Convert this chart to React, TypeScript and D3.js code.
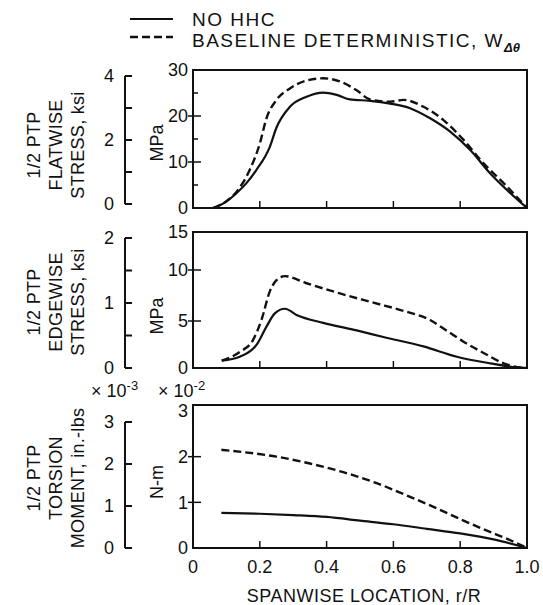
import * as d3 from "d3";
import React, { useRef, useEffect } from "react";

// spanwise location ticks
const xTicks = [0, 0.2, 0.4, 0.6, 0.8, 1.0];
const xTickLabels = ["0", "0.2", "0.4", "0.6", "0.8", "1.0"];

// flatwise stress, MPa  [r/R, value]
const flatNoHhc: [number, number][] = [
  [0.06, 0], [0.1, 1.4], [0.13, 3.2], [0.16, 5.4], [0.19, 8.3], [0.23, 13.3], [0.25, 17.5], [0.29, 22],
  [0.34, 24.2], [0.39, 25.1], [0.43, 24.6], [0.47, 23.6], [0.53, 23.3], [0.59, 22.7],
  [0.65, 21.7], [0.71, 19.5], [0.77, 16.6], [0.83, 12.6], [0.89, 7.5], [0.94, 3.9], [1.0, 0],
];
const flatBaseline: [number, number][] = [
  [0.06, 0], [0.1, 1.5], [0.13, 3.5], [0.17, 8.3], [0.2, 14], [0.22, 19.5], [0.25, 23.5], [0.29, 26],
  [0.34, 27.7], [0.39, 28.2], [0.44, 27.5], [0.49, 25.6], [0.53, 23.6], [0.59, 23.1],
  [0.63, 23.5], [0.69, 22], [0.75, 19.1], [0.81, 14.8], [0.87, 9.7], [0.93, 5.4], [1.0, 0],
];

// edgewise stress, MPa
const edgeNoHhc: [number, number][] = [
  [0.086, 0.78], [0.14, 1.2], [0.19, 2.45], [0.22, 4.4], [0.245, 5.75], [0.275, 6.2], [0.31, 5.6],
  [0.39, 4.8], [0.49, 4.0], [0.57, 3.3], [0.69, 2.3], [0.79, 1.2], [0.89, 0.5], [0.97, 0.07], [1.0, 0],
];
const edgeBaseline: [number, number][] = [
  [0.086, 0.78], [0.14, 1.7], [0.18, 3.0], [0.205, 5.1], [0.23, 7.9], [0.25, 9.0], [0.275, 9.4],
  [0.34, 8.7], [0.44, 7.7], [0.54, 6.8], [0.64, 5.9], [0.71, 5.1], [0.75, 4.2], [0.81, 2.8],
  [0.87, 1.6], [0.93, 0.5], [0.97, 0.1], [1.0, 0],
];

// torsion moment, N-m x10^-2
const torsNoHhc: [number, number][] = [
  [0.085, 0.77], [0.2, 0.75], [0.3, 0.72], [0.4, 0.68], [0.5, 0.6], [0.6, 0.52],
  [0.7, 0.42], [0.8, 0.32], [0.9, 0.19], [1.0, 0],
];
const torsBaseline: [number, number][] = [
  [0.085, 2.15], [0.15, 2.1], [0.25, 2.0], [0.35, 1.85], [0.45, 1.66], [0.55, 1.42],
  [0.65, 1.12], [0.72, 0.9], [0.81, 0.6], [0.88, 0.38], [0.95, 0.17], [1.0, 0],
];

// tick labels
const flatMpaTicks = [0, 10, 20, 30];
const flatMpaMinor = [5, 15, 25];
const flatKsiTicks = [0, 2, 4];
const flatKsiMinor = [1, 3];
const edgeMpaTicks = [0, 5, 10, 15];
const edgeKsiTicks = [0, 1, 2];
const edgeKsiMinor = [0.5, 1.5];
const torsNmTicks = [0, 1, 2, 3];
const torsInlbTicks = [0, 1, 2, 3];

const FONT = "'Liberation Sans', Arial, Helvetica, sans-serif";
const INK = "#111";

export default function App() {
  const ref = useRef<SVGSVGElement>(null);

  useEffect(() => {
    const svg = d3.select(ref.current);
    svg.selectAll("*").remove();

    const x = d3.scaleLinear().domain([0, 1]).range([193, 527]);

    const panels = [
      {
        y: d3.scaleLinear().domain([0, 30]).range([208, 70]),
        top: 70, bottom: 208,
        ticks: flatMpaTicks, minor: flatMpaMinor,
        alt: d3.scaleLinear().domain([0, 4]).range([204, 76]),
        altTicks: flatKsiTicks, altMinor: flatKsiMinor,
        unit: "MPa", unitY: 143,
        title: ["1/2 PTP", "FLATWISE", "STRESS,  ksi"], titleY: 145,
        solid: flatNoHhc, dashed: flatBaseline,
      },
      {
        y: d3.scaleLinear().domain([0, 5, 10, 15]).range([368, 321, 270, 232]),
        top: 232, bottom: 368,
        ticks: edgeMpaTicks, minor: [],
        alt: d3.scaleLinear().domain([0, 2]).range([368, 238]),
        altTicks: edgeKsiTicks, altMinor: edgeKsiMinor,
        unit: "MPa", unitY: 316,
        title: ["1/2 PTP", "EDGEWISE", "STRESS,  ksi"], titleY: 302,
        solid: edgeNoHhc, dashed: edgeBaseline,
      },
      {
        y: d3.scaleLinear().domain([0, 3]).range([548, 411]),
        top: 405, bottom: 548,
        ticks: torsNmTicks, minor: [],
        alt: d3.scaleLinear().domain([0, 3]).range([548, 422]),
        altTicks: torsInlbTicks, altMinor: [],
        unit: "N-m", unitY: 482,
        title: ["1/2 PTP", "TORSION", "MOMENT,  in.-lbs"], titleY: 478,
        solid: torsNoHhc, dashed: torsBaseline,
      },
    ];

    panels.forEach((p) => {
      const g = svg.append("g");

      // frame
      g.append("rect")
        .attr("x", x(0)).attr("y", p.top)
        .attr("width", x(1) - x(0)).attr("height", p.bottom - p.top)
        .attr("fill", "none").attr("stroke", INK).attr("stroke-width", 2);

      // inward x ticks
      g.selectAll(".xt").data(xTicks.slice(1, -1)).enter().append("line")
        .attr("x1", (d) => x(d)).attr("x2", (d) => x(d))
        .attr("y1", p.bottom).attr("y2", p.bottom - 7)
        .attr("stroke", INK).attr("stroke-width", 1.5);

      // left metric ticks (skip the ends, the frame covers them)
      g.selectAll(".yt").data(p.ticks.slice(1, -1)).enter().append("line")
        .attr("x1", x(0) - 5).attr("x2", x(0) + 8)
        .attr("y1", (d) => p.y(d)).attr("y2", (d) => p.y(d))
        .attr("stroke", INK).attr("stroke-width", 1.5);
      g.selectAll(".ym").data(p.minor).enter().append("line")
        .attr("x1", x(0)).attr("x2", x(0) + 5)
        .attr("y1", (d) => p.y(d)).attr("y2", (d) => p.y(d))
        .attr("stroke", INK).attr("stroke-width", 1.5);
      g.selectAll(".yl").data(p.ticks).enter().append("text")
        .attr("x", 188).attr("y", (d) => p.y(d)).attr("dy", "0.36em")
        .attr("text-anchor", "end")
        .attr("font-size", 18).attr("font-family", FONT).attr("fill", INK)
        .text((d) => String(d));

      // english unit axis
      const ax = 125;
      const [a0, a1] = p.alt.domain();
      g.append("line")
        .attr("x1", ax).attr("x2", ax)
        .attr("y1", p.alt(a0)).attr("y2", p.alt(a1))
        .attr("stroke", INK).attr("stroke-width", 2);
      g.selectAll(".at").data(p.altTicks.concat(p.altMinor)).enter().append("line")
        .attr("x1", ax).attr("x2", ax + 7)
        .attr("y1", (d) => p.alt(d)).attr("y2", (d) => p.alt(d))
        .attr("stroke", INK).attr("stroke-width", 2);
      g.selectAll(".al").data(p.altTicks).enter().append("text")
        .attr("x", 114).attr("y", (d) => p.alt(d)).attr("dy", "0.36em")
        .attr("text-anchor", "end")
        .attr("font-size", 18).attr("font-family", FONT).attr("fill", INK)
        .text((d) => String(d));

      // unit label
      g.append("text")
        .attr("transform", `translate(157,${p.unitY}) rotate(-90)`)
        .attr("dy", "0.36em").attr("text-anchor", "middle")
        .attr("font-size", 18).attr("font-family", FONT).attr("fill", INK)
        .text(p.unit);

      // rotated title, three lines
      p.title.forEach((t, i) => {
        g.append("text")
          .attr("transform", `translate(${34 + i * 22},${p.titleY}) rotate(-90)`)
          .attr("dy", "0.36em").attr("text-anchor", "middle")
          .attr("font-size", 18).attr("font-family", FONT).attr("fill", INK)
          .attr("letter-spacing", 0.3)
          .text(t);
      });

      const line = d3.line<[number, number]>()
        .x((d) => x(d[0])).y((d) => p.y(d[1]))
        .curve(d3.curveMonotoneX);

      g.append("path").attr("d", line(p.solid))
        .attr("fill", "none").attr("stroke", INK).attr("stroke-width", 2.2);
      g.append("path").attr("d", line(p.dashed))
        .attr("fill", "none").attr("stroke", INK).attr("stroke-width", 2.4)
        .attr("stroke-dasharray", "8,4");
    });

    // x tick labels on the bottom panel
    svg.selectAll(".xl").data(xTicks).enter().append("text")
      .attr("x", (d) => x(d)).attr("y", 573)
      .attr("text-anchor", "middle")
      .attr("font-size", 18).attr("font-family", FONT).attr("fill", INK)
      .text((d, i) => xTickLabels[i]);

    svg.append("text")
      .attr("x", 364).attr("y", 602)
      .attr("text-anchor", "middle")
      .attr("font-size", 18).attr("font-family", FONT).attr("fill", INK)
      .attr("letter-spacing", 0.5)
      .text("SPANWISE LOCATION, r/R");

    // multipliers above torsion panel
    const mult = (xx: number, exp: string) => {
      const t = svg.append("text")
        .attr("x", xx).attr("y", 397)
        .attr("font-size", 18).attr("font-family", FONT).attr("fill", INK);
      t.append("tspan").text("\u00d7 10");
      t.append("tspan").attr("dy", -7).attr("font-size", 13).text(exp);
    };
    mult(91, "-3");
    mult(158, "-2");

    // legend
    const lg = svg.append("g");
    lg.append("line").attr("x1", 130).attr("x2", 173).attr("y1", 19).attr("y2", 19)
      .attr("stroke", INK).attr("stroke-width", 2);
    lg.append("line").attr("x1", 130).attr("x2", 173).attr("y1", 37).attr("y2", 37)
      .attr("stroke", INK).attr("stroke-width", 2.4).attr("stroke-dasharray", "8,4");
    lg.append("text").attr("x", 192).attr("y", 26)
      .attr("font-size", 19).attr("font-family", FONT).attr("fill", INK)
      .attr("letter-spacing", 1.5)
      .text("NO HHC");
    const lt = lg.append("text").attr("x", 192).attr("y", 47)
      .attr("font-size", 19).attr("font-family", FONT).attr("fill", INK)
      .attr("letter-spacing", 1.5);
    lt.append("tspan").text("BASELINE DETERMINISTIC, W");
    lt.append("tspan").attr("dy", 5).attr("font-size", 13).attr("letter-spacing", 0)
      .attr("font-weight", "bold").attr("font-style", "italic")
      .text("\u0394\u03b8");
  }, []);

  return (
    <div>
      <svg ref={ref} width={543} height={605}
        style={{ position: "absolute", left: 0, top: 0, background: "#fff" }}>
      </svg>
    </div>
  );
}
